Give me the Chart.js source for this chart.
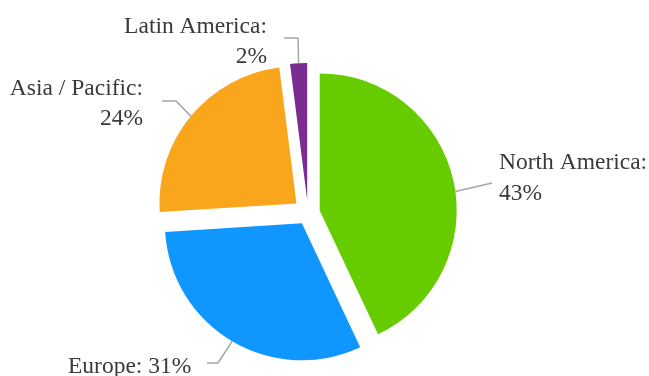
<!DOCTYPE html>
<html>
<head>
<meta charset="utf-8">
<script src="https://cdn.jsdelivr.net/npm/chart.js@4.4.1/dist/chart.umd.min.js"></script>
<style>
  html, body { margin: 0; padding: 0; background: #fff; }
  #wrap { width: 649px; height: 376px; }
</style>
</head>
<body>
<div id="wrap"><canvas id="pieChart"></canvas></div>
<script>
// data
const regions = ['North America', 'Europe', 'Asia / Pacific', 'Latin America'];
const shares = [43, 31, 24, 2];

// look
const sliceColors = ['#66cc00', '#0f97ff', '#f9a61c', '#7b2c91'];
const explode = [12, 12, 15, 13];   // how far each slice is pulled out, px
const pieRadius = 137;

// where the labels sit (leader elbows + text anchor)
const labelLayout = [
  { t: 0.53, path: [[492, 183]], align: 'left', x: 499, ys: [168.5, 200], oneLine: false },
  { t: 0.5, path: [[218, 363], [207, 363]], align: 'left', x: 68, ys: [373], oneLine: true },
  { t: 0.5, path: [[176, 101], [162, 101]], align: 'right', x: 143, ys: [95, 124.5], oneLine: false },
  { t: 0.5, path: [[298, 38], [284, 38]], align: 'right', x: 267, ys: [32.5, 63], oneLine: false }
];

var chartRef = null;

// pull slices out by a fixed distance without growing the radius
const arcDraw = Chart.ArcElement.prototype.draw;
Chart.ArcElement.prototype.draw = function (ctx) {
  var d = 0;
  if (chartRef) {
    var i = chartRef.getDatasetMeta(0).data.indexOf(this);
    if (i >= 0) d = explode[i];
  }
  var mid = (this.startAngle + this.endAngle) / 2;
  ctx.save();
  ctx.translate(Math.cos(mid) * d, Math.sin(mid) * d);
  arcDraw.call(this, ctx);
  ctx.restore();
};

const sliceLabels = {
  id: 'sliceLabels',
  beforeInit(chart) { chartRef = chart; },
  afterDatasetsDraw(chart) {
    const ctx = chart.ctx;
    const arcs = chart.getDatasetMeta(0).data;
    ctx.save();
    arcs.forEach(function (arc, i) {
      const lay = labelLayout[i];
      const mid = (arc.startAngle + arc.endAngle) / 2;
      const a = arc.startAngle + (arc.endAngle - arc.startAngle) * lay.t;
      const cx = arc.x + Math.cos(mid) * explode[i];
      const cy = arc.y + Math.sin(mid) * explode[i];
      const px = cx + Math.cos(a) * arc.outerRadius;
      const py = cy + Math.sin(a) * arc.outerRadius;

      ctx.strokeStyle = '#a6a6a6';
      ctx.lineWidth = 1.5;
      ctx.beginPath();
      ctx.moveTo(px, py);
      lay.path.forEach(function (p) { ctx.lineTo(p[0], p[1]); });
      ctx.stroke();

      ctx.fillStyle = '#3a3a3a';
      ctx.font = '23.5px "Liberation Serif", "Times New Roman", serif';
      ctx.textAlign = lay.align;
      ctx.textBaseline = 'alphabetic';
      const lines = lay.oneLine
        ? [regions[i] + ': ' + shares[i] + '%']
        : [regions[i] + ':', shares[i] + '%'];
      lines.forEach(function (txt, k) {
        ctx.fillText(txt, lay.x, lay.ys[k]);
      });
    });
    ctx.restore();
  }
};

const ctx1 = document.getElementById('pieChart').getContext('2d');

var pieChart = new Chart(ctx1, {
  type: 'pie',
  data: {
    labels: regions,
    datasets: [
      {
        data: shares,
        backgroundColor: sliceColors,
        borderWidth: 0,
        radius: pieRadius
      }
    ]
  },
  options: {
    responsive: true,
    maintainAspectRatio: false,
    animation: false,
    layout: {
      padding: { left: 0, right: 33, top: 50, bottom: 0 }
    },
    plugins: {
      legend: { display: false },
      tooltip: { enabled: false }
    }
  },
  plugins: [sliceLabels]
});
</script>
</body>
</html>
